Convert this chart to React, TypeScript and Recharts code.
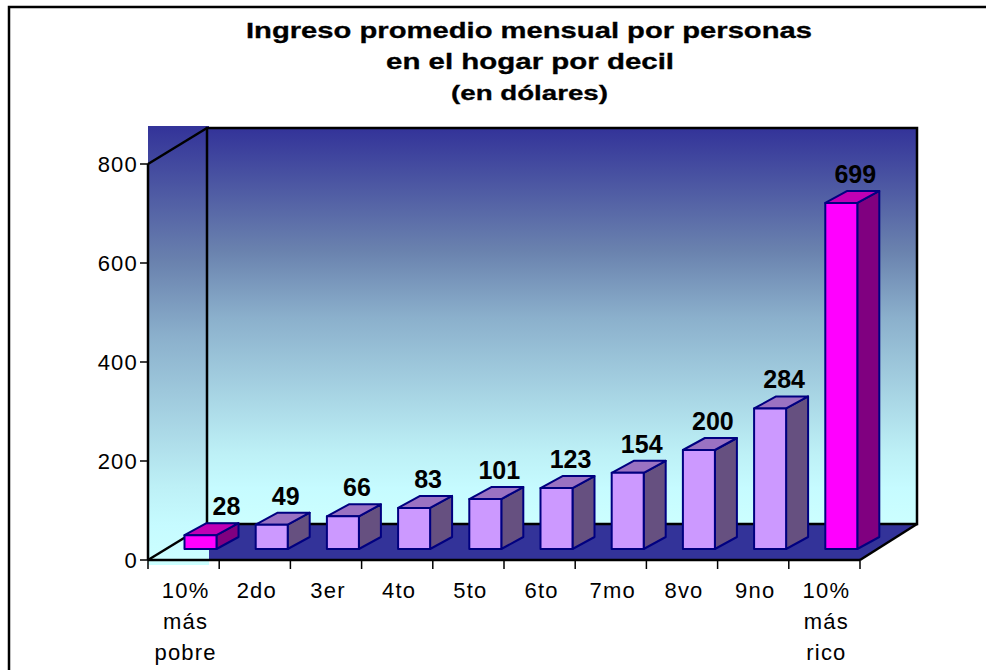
import { BarChart, Bar, XAxis, YAxis } from "recharts";

const categories = [
  "10% más pobre",
  "2do",
  "3er",
  "4to",
  "5to",
  "6to",
  "7mo",
  "8vo",
  "9no",
  "10% más rico",
];
const ingreso = [28, 49, 66, 83, 101, 123, 154, 200, 284, 699];
const yTicks = [0, 200, 400, 600, 800];
const destacados = ["10% más pobre", "10% más rico"];

const data = categories.map((decil, i) => ({ decil, ingreso: ingreso[i] }));

const FONT = '"Liberation Sans", Arial, sans-serif';
const BAND = 71.2;
// desplazamiento de las barras dentro del piso 3D
const SHIFT_X = 16.5;
const SHIFT_Y = -11;
const DEPTH_X = 22;
const DEPTH_Y = 12;

const normal = { front: "#cc99ff", top: "#9a72c2", side: "#665080" };
const fuerte = { front: "#ff00ff", top: "#c000b4", side: "#800080" };

function Bar3D(props: any) {
  const { x, y, width, height, payload, index } = props;
  const c = destacados.includes(payload.decil) ? fuerte : normal;
  const l = x + SHIFT_X;
  const r = l + width;
  const t = y + SHIFT_Y;
  const b = t + height;
  const labelX = (l + r + DEPTH_X) / 2 + (index === 0 ? 15 : 3);
  return (
    <g stroke="#000080" strokeWidth={2} strokeLinejoin="round">
      <polygon
        fill={c.side}
        points={`${r},${t} ${r + DEPTH_X},${t - DEPTH_Y} ${r + DEPTH_X},${b - DEPTH_Y} ${r},${b}`}
      />
      <polygon
        fill={c.top}
        points={`${l},${t} ${l + DEPTH_X},${t - DEPTH_Y} ${r + DEPTH_X},${t - DEPTH_Y} ${r},${t}`}
      />
      <rect x={l} y={t} width={width} height={height} fill={c.front} />
      <text
        x={labelX}
        y={t - DEPTH_Y - 8}
        textAnchor="middle"
        stroke="none"
        fill="#000"
        fontFamily={FONT}
        fontWeight="bold"
        fontSize={25}
      >
        {payload.ingreso}
      </text>
    </g>
  );
}

function CategoryTick(props: any) {
  const { x, payload, index } = props;
  const words: string[] = payload.value.split(" ");
  const last = index === categories.length - 1;
  return (
    <g>
      <line x1={x - BAND / 2} x2={x - BAND / 2} y1={560} y2={569} stroke="#000" strokeWidth={1.5} />
      {last && <line x1={x + BAND / 2} x2={x + BAND / 2} y1={560} y2={569} stroke="#000" strokeWidth={1.5} />}
      {words.map((w, i) => (
        <text
          key={w}
          x={x + 2}
          y={598 + i * 31}
          textAnchor="middle"
          fontFamily={FONT}
          fontSize={22}
          letterSpacing={1.2}
          fill="#000"
        >
          {w}
        </text>
      ))}
    </g>
  );
}

function Backdrop() {
  return (
    <svg width={986} height={670} style={{ position: "absolute", left: 0, top: 0 }}>
      <defs>
        <linearGradient id="pared" x1="0" y1="0" x2="0" y2="1">
          <stop offset="0%" stopColor="#333399" />
          <stop offset="31%" stopColor="#6a82ae" />
          <stop offset="48%" stopColor="#8bb0cc" />
          <stop offset="82%" stopColor="#bdf0f6" />
          <stop offset="91%" stopColor="#c6fbff" />
          <stop offset="100%" stopColor="#ccffff" />
        </linearGradient>
      </defs>
      <path d="M9,670 V7 H986" fill="none" stroke="#000" strokeWidth={2.5} />
      <g fontFamily={FONT} fontWeight="bold" fontSize={22} textAnchor="start" stroke="#000" strokeWidth={0.3}>
        <text x={246} y={38} textLength={566} lengthAdjust="spacingAndGlyphs">
          Ingreso promedio mensual por personas
        </text>
        <text x={386} y={69} textLength={288} lengthAdjust="spacingAndGlyphs">
          en el hogar por decil
        </text>
        <text x={451} y={100} fontSize={21} textLength={157} lengthAdjust="spacingAndGlyphs">
          (en dólares)
        </text>
      </g>
      <rect x={148} y={126} width={61} height={439} fill="url(#pared)" />
      <rect x={207} y={128} width={710} height={396} fill="url(#pared)" />
      <polygon points="209,524 917,524 860,560 209,560" fill="#333399" />
      <g stroke="#000" strokeWidth={2.5} fill="none">
        <polyline points="207,524 207,128 917,128 917,524 207,524" />
        <line x1={148} y1={164} x2={207} y2={128} />
        <line x1={148} y1={560} x2={207} y2={524} />
        <line x1={860} y1={560} x2={917} y2={524} />
      </g>
    </svg>
  );
}

export default function App() {
  return (
    <div style={{ position: "absolute", left: 0, top: 0, width: 986, height: 670, overflow: "hidden", background: "#fff" }}>
      <Backdrop />
      <div style={{ position: "absolute", left: 0, top: 0 }}>
        <BarChart
          width={986}
          height={670}
          data={data}
          margin={{ top: 164, right: 126, bottom: 0, left: 0 }}
          barSize={32}
        >
          <XAxis
            dataKey="decil"
            interval={0}
            axisLine={{ stroke: "#000", strokeWidth: 2.5 }}
            tickLine={false}
            tick={<CategoryTick />}
            height={110}
          />
          <YAxis
            type="number"
            domain={[0, 800]}
            ticks={yTicks}
            width={148}
            axisLine={{ stroke: "#000", strokeWidth: 2.5 }}
            tickLine={{ stroke: "#000", strokeWidth: 1.5 }}
            tickSize={8}
            tickMargin={2}
            tick={{ fill: "#000", fontFamily: FONT, fontSize: 22, letterSpacing: 1.2 }}
          />
          <Bar dataKey="ingreso" isAnimationActive={false} shape={<Bar3D />} />
        </BarChart>
      </div>
    </div>
  );
}
